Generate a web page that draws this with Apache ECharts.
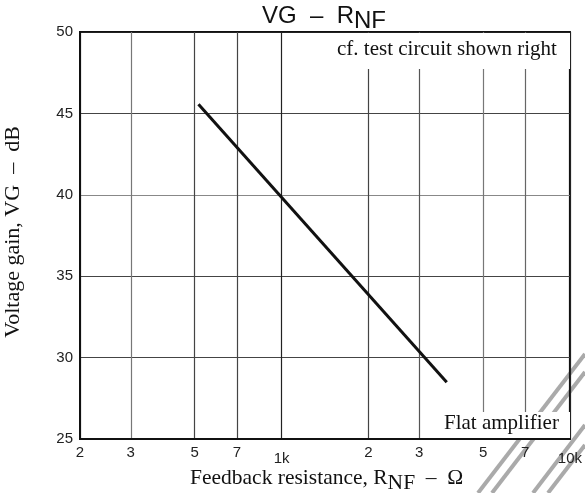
<!DOCTYPE html>
<html>
<head>
<meta charset="utf-8">
<script src="https://cdn.jsdelivr.net/npm/echarts@6/dist/echarts.min.js"></script>
<style>
  html, body { margin: 0; padding: 0; background: #fff; }
  #chart { width: 585px; height: 493px; }
</style>
</head>
<body>
<div id="chart"></div>
<script>
// Voltage gain versus feedback resistance (log scale)
const resistance = [515, 3740];       // Ω
const voltageGain = [45.56, 28.48];   // dB

const xTickValues = [200, 300, 500, 700, 1000, 2000, 3000, 5000, 7000, 10000];
const xTickLabels = ['2', '3', '5', '7', '1k', '2', '3', '5', '7', '10k'];
const yTickValues = [25, 30, 35, 40, 45, 50];
const yTickLabels = ['25', '30', '35', '40', '45', '50'];

const SANS = '"Liberation Sans", Arial, sans-serif';
const SERIF = '"Liberation Serif", "Times New Roman", serif';

const chart = echarts.init(document.getElementById('chart'), null, { renderer: 'canvas' });

const xLineColors = ['#222', '#777', '#444', '#444', '#222', '#444', '#555', '#777', '#666', '#222'];
const yLineColors = ['#222', '#444', '#444', '#888', '#444', '#222'];

chart.setOption({
  animation: false,
  backgroundColor: '#fff',
  title: {
    text: '{m|VG  –  R}{s|NF}',
    left: 257,
    top: -6,
    textStyle: {
      rich: {
        m: { fontFamily: SANS, fontSize: 24, fontWeight: 'normal', color: '#111' },
        s: { fontFamily: SANS, fontSize: 24, fontWeight: 'normal', color: '#111', padding: [10, 0, 0, 0] }
      }
    }
  },
  grid: {
    left: 80, right: 13, top: 32, bottom: 54, containLabel: false,
    show: true, borderColor: '#111', borderWidth: 2, backgroundColor: 'transparent'
  },
  xAxis: {
    type: 'log',
    logBase: 10,
    min: 200,
    max: 10000,
    axisLine: { show: true, lineStyle: { color: '#111', width: 2 } },
    axisTick: { show: false, customValues: xTickValues },
    axisLabel: {
      customValues: xTickValues,
      margin: 6,
      fontFamily: SANS,
      fontSize: 15,
      color: '#222',
      formatter: function (v) {
        const i = xTickValues.indexOf(Math.round(v));
        const t = i >= 0 ? xTickLabels[i] : '';
        return (t.indexOf('k') >= 0) ? '{k|' + t + '}' : t;
      },
      rich: { k: { fontFamily: SANS, fontSize: 15, color: '#222', padding: [6, 0, 0, 0] } }
    },
    splitLine: { show: true, lineStyle: { color: xLineColors, width: 1.2 } }
  },
  yAxis: {
    type: 'value',
    min: 25,
    max: 50,
    interval: 5,
    axisLine: { show: true, lineStyle: { color: '#111', width: 2 } },
    axisTick: { show: false },
    axisLabel: {
      margin: 7,
      fontFamily: SANS,
      fontSize: 15,
      color: '#222',
      formatter: function (v) {
        const i = yTickValues.indexOf(v);
        return i >= 0 ? yTickLabels[i] : '';
      }
    },
    splitLine: { show: true, lineStyle: { color: yLineColors, width: 1.2 } }
  },
  graphic: [
    // diagonal strokes at the lower right corner
    { type: 'line', z: -1, shape: { x1: 478, y1: 493, x2: 585, y2: 354 }, style: { stroke: '#aaa', lineWidth: 4 } },
    { type: 'line', z: -1, shape: { x1: 492, y1: 493, x2: 585, y2: 372 }, style: { stroke: '#aaa', lineWidth: 4 } },
    { type: 'line', z: -1, shape: { x1: 533, y1: 493, x2: 585, y2: 425 }, style: { stroke: '#aaa', lineWidth: 4 } },
    { type: 'line', z: -1, shape: { x1: 548, y1: 493, x2: 585, y2: 445 }, style: { stroke: '#aaa', lineWidth: 4 } },
    // notes inside the plot
    { type: 'rect', z: 10, shape: { x: 333, y: 33, width: 237, height: 36 }, style: { fill: '#fff' } },
    { type: 'text', z: 11, left: 337, top: 39, style: { text: 'cf. test circuit shown right', font: '21px ' + SERIF, fill: '#111' } },
    { type: 'rect', z: 10, shape: { x: 432, y: 412, width: 138, height: 26 }, style: { fill: '#fff' } },
    { type: 'text', z: 11, left: 444, top: 413, style: { text: 'Flat amplifier', font: '21px ' + SERIF, fill: '#111' } },
    // axis titles
    {
      type: 'text', z: 11, left: 190, top: 467,
      style: {
        text: '{m|Feedback resistance, R}{s|NF}{m|  –  Ω}',
        rich: {
          m: { fontFamily: SERIF, fontSize: 21.5, fill: '#111' },
          s: { fontFamily: SERIF, fontSize: 21.5, fill: '#111', padding: [10, 0, 0, 0] }
        }
      }
    },
    {
      type: 'text', z: 11, x: 13, y: 232, rotation: Math.PI / 2,
      style: { text: 'Voltage gain, VG  –  dB', font: '22px ' + SERIF, fill: '#111', align: 'center', verticalAlign: 'middle' }
    }
  ],
  series: [{
    type: 'line',
    data: resistance.map((r, i) => [r, voltageGain[i]]),
    showSymbol: false,
    lineStyle: { color: '#111', width: 3 },
    z: 5
  }]
});
</script>
</body>
</html>
